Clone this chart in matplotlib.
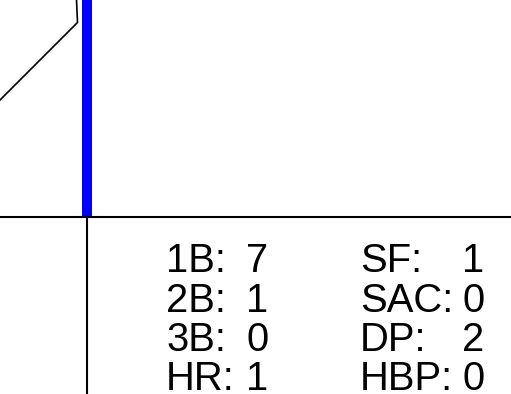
import matplotlib
matplotlib.use("Agg")
import matplotlib.pyplot as plt

# outline path (pixel coordinates of the cropped field drawing)
outline_x = [0, 77.5, 76.5, 76.2]
outline_y = [100, 22.5, 0, -5]

# blue marker and divider lines
blue_x = 87.3
blue_top, blue_bottom = -5, 215.5
divider_y = 216.5

# stat labels and values
left_labels = ["1B:", "2B:", "3B:", "HR:"]
left_values = [7, 1, 0, 1]
right_labels = ["SF:", "SAC:", "DP:", "HBP:"]
right_values = [1, 0, 2, 0]
baselines = [272, 311.5, 351, 390.5]

W, H = 511, 394
fig = plt.figure(figsize=(W / 100, H / 100), dpi=100)
ax = fig.add_axes([0, 0, 1, 1])
ax.set_xlim(0, W)
ax.set_ylim(H, 0)
ax.axis("off")

ax.plot(outline_x, outline_y, color="black", lw=1.2)
ax.plot([blue_x, blue_x], [blue_top, blue_bottom], color="#0000ff", lw=7.2,
        solid_capstyle="butt")
ax.plot([0, W], [divider_y, divider_y], color="black", lw=1.5)
ax.plot([blue_x, blue_x], [divider_y, H + 5], color="black", lw=1.5)

style = dict(fontsize=28.8, family="Liberation Sans", ha="left",
             va="baseline", color="black")
for lab, val, yb in zip(left_labels, left_values, baselines):
    ax.text(166, yb, lab, **style)
    ax.text(246, yb, str(val), **style)
for lab, val, yb in zip(right_labels, right_values, baselines):
    ax.text(360, yb, lab, **style)
    ax.text(462, yb, str(val), **style)

fig.savefig("out.png", dpi=100)
